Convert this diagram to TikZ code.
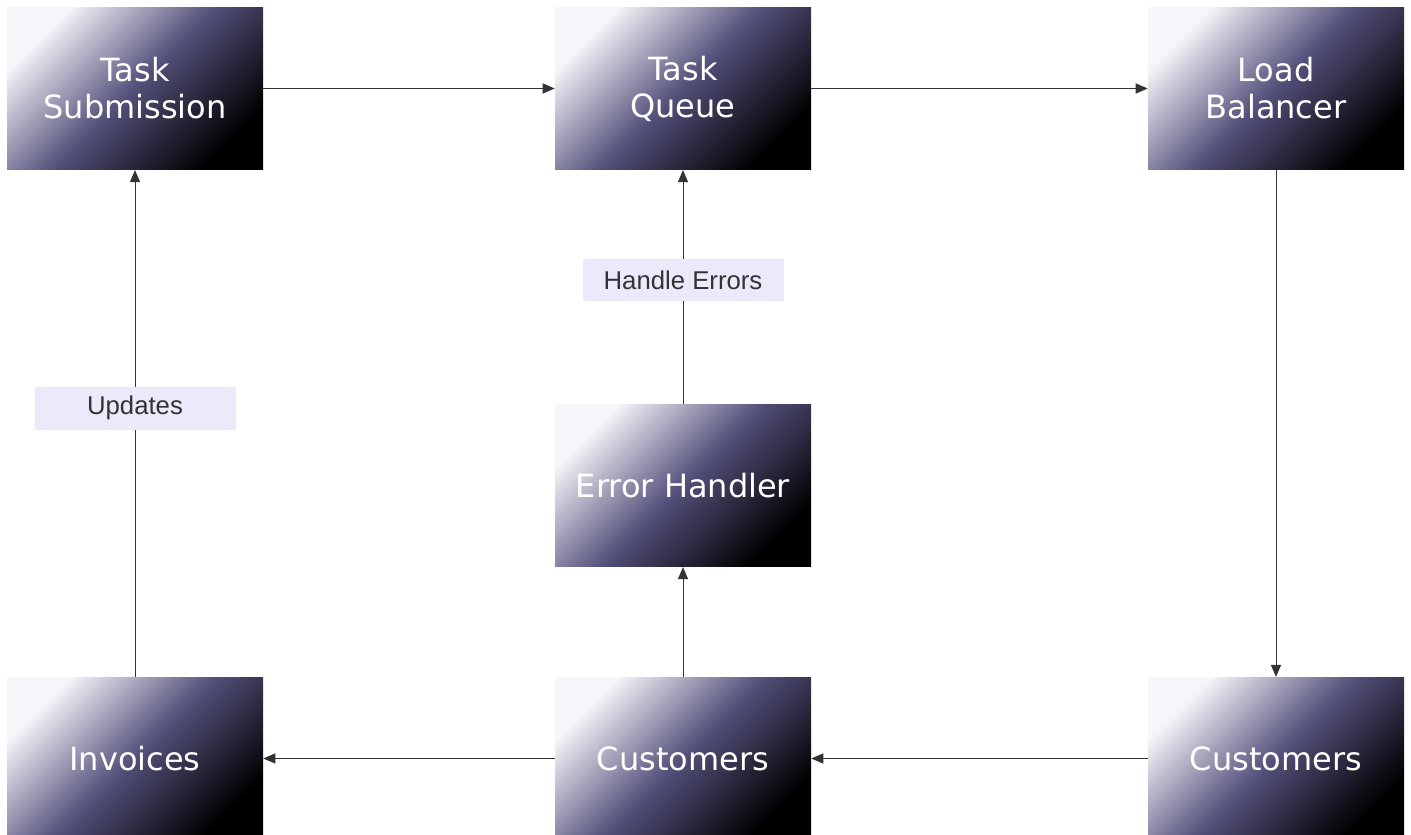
\documentclass[tikz,border=0pt]{standalone}
\usepackage{fontspec}
\setmainfont{DejaVu Sans}
\newfontfamily\tagfont{Liberation Sans}
\usepackage{tikz}
\usetikzlibrary{arrows.meta}
\usetikzlibrary{positioning}
\definecolor{boxTop}{RGB}{246,246,250}
\definecolor{boxMid}{RGB}{82,79,121}
\definecolor{tagBody}{RGB}{236,233,251}
\definecolor{lineGray}{RGB}{51,51,51}
\tikzstyle{block} = [rectangle, minimum width=192pt, minimum height=122pt, inner sep=0pt,
    left color=boxTop, right color=black, middle color=boxMid, shading angle=45,
    text=white, align=center, font=\fontsize{24}{27.75}\selectfont]
\tikzstyle{tag} = [rectangle, fill=tagBody, minimum width=150.75pt, minimum height=32pt,
    inner sep=0pt, text=lineGray, font=\tagfont\fontsize{19.3}{22}\selectfont]
\tikzstyle{flow} = [draw=lineGray, line width=0.75pt, -{Triangle[length=9pt,width=7.5pt]}]

\begin{document}
\begin{tikzpicture}[x=0.75pt, y=-0.75pt]
    \useasboundingbox (0,0) rectangle (1411,835);
    \node [block] (submit) at (135,88.5) {Task\\Submission};
    \node [block] (queue) at (683,88.5) {Task\\Queue};
    \node [block] (balancer) at (1276,88.5) {Load\\Balancer};
    \node [block] (errors) at (683,485.5) {Error Handler};
    \node [block] (invoices) at (135,758.5) {Invoices};
    \node [block] (custMid) at (683,758.5) {Customers};
    \node [block] (custRight) at (1276,758.5) {Customers};
    \draw [flow] (submit) -- (queue);
    \draw [flow] (queue) -- (balancer);
    \draw [flow] (balancer) -- (custRight);
    \draw [flow] (custRight) -- (custMid);
    \draw [flow] (custMid) -- (invoices);
    \draw [flow] (custMid) -- (errors);
    \draw [flow] (errors) -- node [tag, pos=0.53] (handleTag) {Handle Errors} (queue);
    \draw [flow] (invoices) -- node [tag, pos=0.53] (updTag) {Updates} (submit);
\end{tikzpicture}
\end{document}
